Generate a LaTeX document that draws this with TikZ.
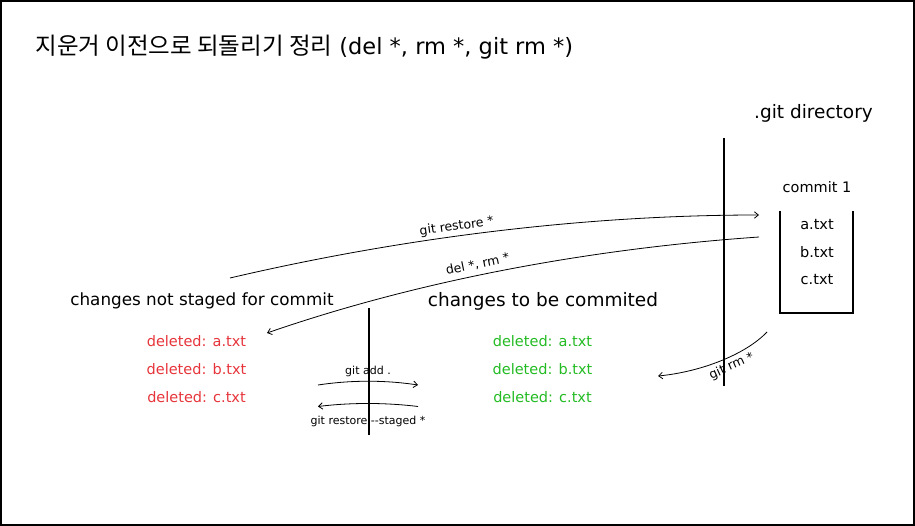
\documentclass[tikz,border=0pt]{standalone}
\usepackage{fontspec}
\setmainfont{DejaVu Sans}
\newfontfamily\krfont{Noto Sans CJK KR}
\usetikzlibrary{arrows.meta}
\definecolor{delred}{RGB}{230,52,58}
\definecolor{stgreen}{RGB}{34,187,34}

\begin{document}
\begin{tikzpicture}[x=1pt,y=-1pt,>={Straight Barb[length=4pt,width=6.5pt]},
                    node distance = 28pt, line width=0.8pt,
                    file/.style={inner sep=0pt,font=\fontsize{14.5}{16}\selectfont},
                    area/.style={inner sep=0pt,font=\fontsize{18.5}{22}\selectfont},
                    cmd/.style={inner sep=1pt,font=\fontsize{12.5}{14}\selectfont},
                    small cmd/.style={inner sep=1pt,font=\fontsize{11}{13}\selectfont},
                    wall/.style={line width=2pt}]

  \useasboundingbox (0,0) rectangle (915,526);
  \draw[line width=2pt] (1,1) rectangle (914,525);

  \node[inner sep=0pt,anchor=west,font=\fontsize{22.5}{26}\selectfont] (title) at (35,47)
       {{\krfont\fontsize{23.5}{26}\selectfont 지운거 이전으로 되돌리기 정리} (del *, rm *, git rm *)};

  % working directory
  \node[area,font=\fontsize{16.8}{20}\selectfont] (unstaged) at (202,301) {changes not staged for commit};
  \node[file,text=delred] (ua) at (196.5,341) {deleted: a.txt};
  \node[file,text=delred] (ub) [below of=ua] {deleted: b.txt};
  \node[file,text=delred] (uc) [below of=ub] {deleted: c.txt};

  % staging area
  \node[area] (staged) at (543,301) {changes to be commited};
  \node[file,text=stgreen] (sa) at (542.5,341) {deleted: a.txt};
  \node[file,text=stgreen] (sb) [below of=sa] {deleted: b.txt};
  \node[file,text=stgreen] (sc) [below of=sb] {deleted: c.txt};

  % .git directory
  \node[area] (gitdir) at (813.5,113) {.git directory};
  \node[file] (commit) at (817,187) {commit 1};
  \node[file] (ca) at (817,225) {a.txt};
  \node[file] (cb) [below of=ca, node distance=27.5pt] {b.txt};
  \node[file] (cc) [below of=cb, node distance=27.5pt] {c.txt};
  \draw[wall] (780,211) |- (853,313) -- (853,211);

  \draw[wall] (368.5,308) -- (368.5,435);
  \draw[wall] (724,138) -- (724,386);

  \coordinate (restore from) at (230,278);
  \coordinate (restore to)   at (759,215);
  \coordinate (del from)     at (267,333);
  \coordinate (del to)       at (759,237);
  \coordinate (rm from)      at (658,376);
  \coordinate (rm to)        at (767,332);
  \coordinate (add from)     at (318,385);
  \coordinate (add to)       at (418,385);
  \coordinate (unstage from) at (318,406.5);
  \coordinate (unstage to)   at (418,406.5);

  \draw[->] (restore from) .. controls (401,238) and (583,215) .. (restore to)
        node[cmd,pos=0.435,sloped,above=2pt] {git restore *};
  \draw[<-] (del from) .. controls (423,279) and (594,248.5) .. (del to)
        node[cmd,pos=0.44,sloped,above=4pt] {del *, rm *};
  \draw[<-] (rm from) .. controls (700,372) and (745,355) .. (rm to)
        node[cmd,pos=0.57,sloped,below=2pt] {git rm *};
  \draw[->] (add from) .. controls (351,380) and (385,380) .. (add to)
        node[small cmd,midway,above=3pt] {git add .};
  \draw[<-] (unstage from) .. controls (351,402.5) and (385,402.5) .. (unstage to)
        node[small cmd,midway,below=11pt] {git restore -{}-staged *};
\end{tikzpicture}
\end{document}
